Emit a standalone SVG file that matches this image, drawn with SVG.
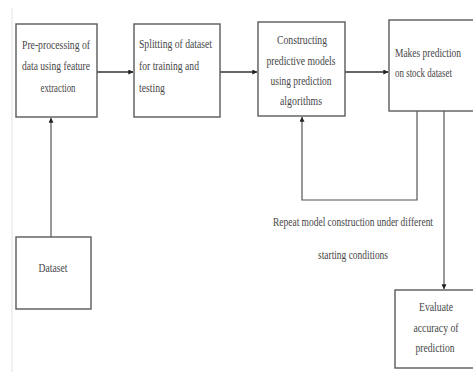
<svg xmlns="http://www.w3.org/2000/svg" width="473" height="372" viewBox="0 0 473 372">
<defs>
<marker id="ah" viewBox="0 0 8 8" refX="7.5" refY="4" markerWidth="5" markerHeight="5" orient="auto" markerUnits="userSpaceOnUse">
<path d="M0,0 L8,4 L0,8 z" fill="#222"/>
</marker>
<style>
.box{fill:#fff;stroke:#5a5a5a;stroke-width:1.4}
.t{font-family:"Liberation Serif","Times New Roman",serif;font-size:12px;fill:#474747}
.c{text-anchor:middle}
.ln{fill:none;stroke:#333;stroke-width:1.6}
.thin{fill:none;stroke:#555;stroke-width:1.2}
</style>
</defs>
<rect width="473" height="372" fill="#fff"/>
<line x1="12" y1="8" x2="12" y2="372" stroke="#e2e2e2" stroke-width="1"/>
<g id="connectors">
<line class="ln" x1="97" y1="72" x2="133" y2="72" marker-end="url(#ah)"/>
<line class="ln" x1="220" y1="72" x2="257" y2="72" marker-end="url(#ah)"/>
<line class="ln" x1="345" y1="72" x2="388" y2="72" marker-end="url(#ah)"/>
<line class="thin" x1="51" y1="237" x2="51" y2="118" marker-end="url(#ah)"/>
<polyline class="thin" points="417,111 417,200 302,200 302,117" marker-end="url(#ah)"/>
<line class="thin" x1="444" y1="111" x2="444" y2="289" marker-end="url(#ah)"/>
</g>
<g id="preprocessing">
<rect class="box" x="16" y="24" width="81" height="93"/>
<text class="t c" x="56" y="49" textLength="68" lengthAdjust="spacingAndGlyphs">Pre-processing of</text>
<text class="t c" x="56" y="70" textLength="68" lengthAdjust="spacingAndGlyphs">data using feature</text>
<text class="t c" x="58" y="92" textLength="35" lengthAdjust="spacingAndGlyphs">extraction</text>
</g>
<g id="splitting">
<rect class="box" x="134" y="24" width="86" height="93"/>
<text class="t" x="139" y="48" textLength="73" lengthAdjust="spacingAndGlyphs">Splitting of dataset</text>
<text class="t" x="139" y="70" textLength="60" lengthAdjust="spacingAndGlyphs">for training and</text>
<text class="t" x="139" y="92" textLength="26" lengthAdjust="spacingAndGlyphs">testing</text>
</g>
<g id="constructing">
<rect class="box" x="258" y="22" width="87" height="94"/>
<text class="t c" x="302" y="44" textLength="50" lengthAdjust="spacingAndGlyphs">Constructing</text>
<text class="t c" x="301" y="65" textLength="69" lengthAdjust="spacingAndGlyphs">predictive models</text>
<text class="t c" x="301" y="85" textLength="61" lengthAdjust="spacingAndGlyphs">using prediction</text>
<text class="t c" x="301" y="105" textLength="42" lengthAdjust="spacingAndGlyphs">algorithms</text>
</g>
<g id="makes-prediction">
<rect class="box" x="389" y="20" width="90" height="91"/>
<text class="t" x="395" y="57" textLength="66" lengthAdjust="spacingAndGlyphs">Makes prediction</text>
<text class="t" x="395" y="77" textLength="57" lengthAdjust="spacingAndGlyphs">on stock dataset</text>
</g>
<g id="dataset">
<rect class="box" x="16" y="237" width="75" height="72"/>
<text class="t c" x="53" y="272" textLength="29" lengthAdjust="spacingAndGlyphs">Dataset</text>
</g>
<g id="evaluate">
<rect class="box" x="395" y="290" width="84" height="78"/>
<text class="t c" x="436" y="311" textLength="34" lengthAdjust="spacingAndGlyphs">Evaluate</text>
<text class="t c" x="436" y="332" textLength="45" lengthAdjust="spacingAndGlyphs">accuracy of</text>
<text class="t c" x="435" y="352" textLength="39" lengthAdjust="spacingAndGlyphs">prediction</text>
</g>
<g id="repeat-label">
<text class="t c" x="353" y="226" textLength="160" lengthAdjust="spacingAndGlyphs">Repeat model construction under different</text>
<text class="t c" x="353" y="259" textLength="70" lengthAdjust="spacingAndGlyphs">starting conditions</text>
</g>
</svg>
